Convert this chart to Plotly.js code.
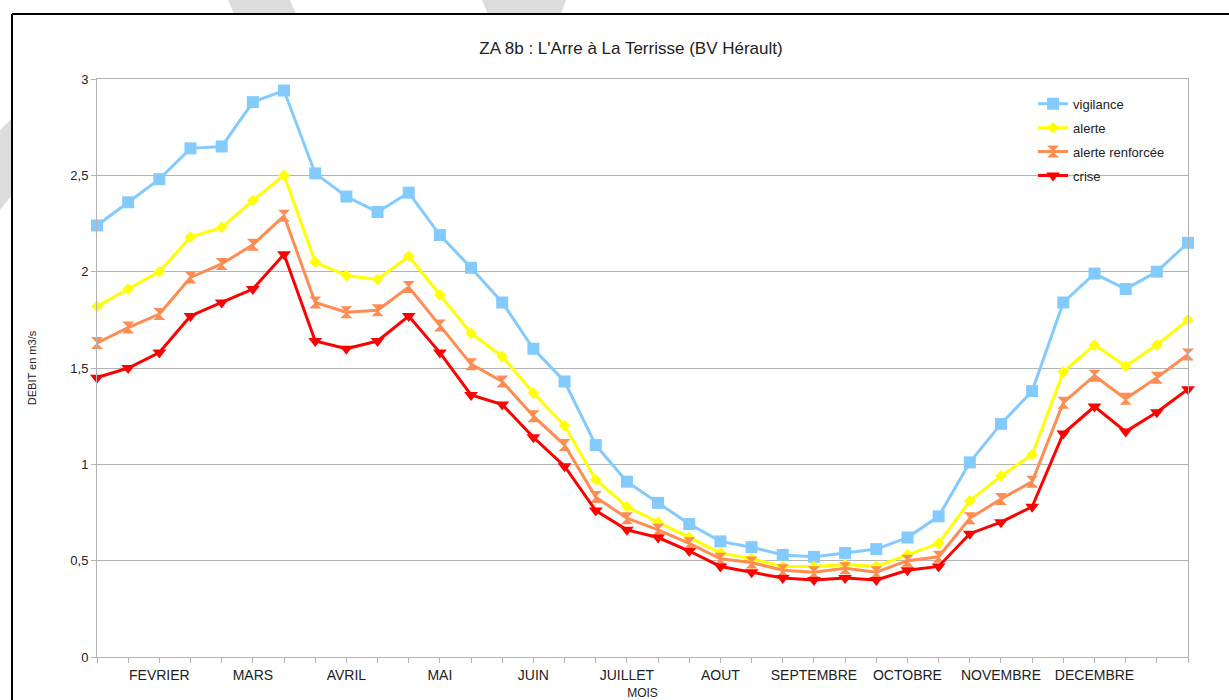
<!DOCTYPE html>
<html>
<head>
<meta charset="utf-8">
<script src="https://cdn.plot.ly/plotly-3.0.1.min.js"></script>
<style>
  html, body { margin: 0; padding: 0; background: #ffffff; }
  #chart { width: 1229px; height: 700px; }
</style>
</head>
<body>
<div id="chart"></div>
<script>
// 36 decades (3 per month)
const decades = [
  "JAN-1","JAN-2","JAN-3","FEV-1","FEV-2","FEV-3","MAR-1","MAR-2","MAR-3",
  "AVR-1","AVR-2","AVR-3","MAI-1","MAI-2","MAI-3","JUN-1","JUN-2","JUN-3",
  "JUL-1","JUL-2","JUL-3","AOU-1","AOU-2","AOU-3","SEP-1","SEP-2","SEP-3",
  "OCT-1","OCT-2","OCT-3","NOV-1","NOV-2","NOV-3","DEC-1","DEC-2","DEC-3"
];
// tick labels as shown under the axis
const monthLabels = [
  "", "", "FEVRIER", "", "", "MARS", "", "", "AVRIL", "", "", "MAI",
  "", "", "JUIN", "", "", "JUILLET", "", "", "AOUT", "", "", "SEPTEMBRE",
  "", "", "OCTOBRE", "", "", "NOVEMBRE", "", "", "DECEMBRE", "", "", ""
];

const vigilance = [2.24, 2.36, 2.48, 2.64, 2.65, 2.88, 2.94, 2.51, 2.39, 2.31, 2.41, 2.19,
  2.02, 1.84, 1.60, 1.43, 1.10, 0.91, 0.80, 0.69, 0.60, 0.57, 0.53, 0.52,
  0.54, 0.56, 0.62, 0.73, 1.01, 1.21, 1.38, 1.84, 1.99, 1.91, 2.00, 2.15];
const alerte = [1.82, 1.91, 2.00, 2.18, 2.23, 2.37, 2.50, 2.05, 1.98, 1.96, 2.08, 1.88,
  1.68, 1.56, 1.37, 1.20, 0.92, 0.78, 0.70, 0.62, 0.54, 0.51, 0.47, 0.47,
  0.48, 0.47, 0.53, 0.59, 0.81, 0.94, 1.05, 1.48, 1.62, 1.51, 1.62, 1.75];
const alerteRenforcee = [1.63, 1.71, 1.78, 1.97, 2.04, 2.14, 2.29, 1.84, 1.79, 1.80, 1.92, 1.72,
  1.52, 1.43, 1.25, 1.10, 0.83, 0.72, 0.66, 0.59, 0.51, 0.49, 0.45, 0.44,
  0.46, 0.44, 0.50, 0.52, 0.72, 0.82, 0.91, 1.32, 1.46, 1.34, 1.45, 1.57];
const crise = [1.45, 1.50, 1.58, 1.77, 1.84, 1.91, 2.09, 1.64, 1.60, 1.64, 1.77, 1.58,
  1.36, 1.31, 1.14, 0.99, 0.76, 0.66, 0.62, 0.55, 0.47, 0.44, 0.41, 0.40,
  0.41, 0.40, 0.45, 0.47, 0.64, 0.70, 0.78, 1.16, 1.30, 1.17, 1.27, 1.39];

const seriesNames = ["vigilance", "alerte", "alerte renforcée", "crise"];
const seriesValues = [vigilance, alerte, alerteRenforcee, crise];
const seriesColors = ["#83caff", "#ffff00", "#ff8c52", "#ff0000"];
const seriesSymbols = ["square", "diamond", "hourglass", "triangle-down"];
const seriesSizes = [12, 9, 12, 12];

const FONT = "Liberation Sans, Arial, sans-serif";

// page geometry (pixels) used for the decorative frame / watermark
const W = 1229, H = 700, ML = 97, MR = 41, MT = 79, MB = 43;
const PW = W - ML - MR, PH = H - MT - MB;
const px = v => (v - ML) / PW;
const py = v => (H - MB - v) / PH;
function poly(pts) {
  return pts.map((p, i) => (i ? "L" : "M") + px(p[0]).toFixed(4) + "," + py(p[1]).toFixed(4)).join(" ") + " Z";
}

const traces = seriesNames.map((name, k) => ({
  type: "scatter",
  mode: "lines+markers",
  name: name,
  x: decades,
  y: seriesValues[k],
  legendgroup: "g" + k,
  cliponaxis: false,
  line: { color: seriesColors[k], width: 3 },
  marker: { color: seriesColors[k], symbol: seriesSymbols[k], size: seriesSizes[k],
            line: { width: 0 } }
}));

const layout = {
  width: W,
  height: H,
  paper_bgcolor: "#ffffff",
  plot_bgcolor: "#ffffff",
  separators: ", ",
  margin: { l: ML, r: MR, t: MT, b: MB },
  font: { family: FONT, color: "#222222", size: 13 },
  title: {
    text: "ZA 8b : L'Arre à La Terrisse (BV Hérault)",
    font: { family: FONT, size: 17, color: "#222222" },
    xref: "container", x: 0.5134, xanchor: "center",
    yref: "container", y: 0.931, yanchor: "middle"
  },
  xaxis: {
    type: "category",
    range: [0, decades.length - 1],
    tickmode: "array",
    tickvals: decades,
    ticktext: monthLabels,
    ticks: "outside",
    ticklen: 5,
    tickcolor: "#b3b3b3",
    tickangle: 0,
    tickfont: { family: FONT, size: 14, color: "#222222" },
    showgrid: false,
    showline: true,
    linecolor: "#b3b3b3",
    linewidth: 1,
    mirror: true,
    zeroline: false,
    title: { text: "MOIS", font: { family: FONT, size: 12, color: "#222222" }, standoff: 8 },
    automargin: false
  },
  yaxis: {
    range: [0, 3],
    dtick: 0.5,
    tick0: 0,
    ticks: "outside",
    ticklen: 5,
    tickcolor: "#b3b3b3",
    tickfont: { family: FONT, size: 13, color: "#222222" },
    showgrid: true,
    gridcolor: "#b3b3b3",
    gridwidth: 1,
    showline: true,
    linecolor: "#b3b3b3",
    linewidth: 1,
    mirror: true,
    zeroline: false,
    title: { text: "DEBIT en m3/s", font: { family: FONT, size: 11, color: "#222222" }, standoff: 31 },
    automargin: false
  },
  showlegend: true,
  legend: {
    x: 0.858, xanchor: "left",
    y: 0.983, yanchor: "top",
    bgcolor: "rgba(0,0,0,0)",
    borderwidth: 0,
    font: { family: FONT, size: 13, color: "#222222" },
    tracegroupgap: 4,
    itemwidth: 30
  },
  shapes: [
    // light grey watermark fragments visible outside the chart frame
    { type: "path", xref: "paper", yref: "paper", layer: "below", line: { width: 0 }, fillcolor: "#dcdcdc",
      path: poly([[228, 0], [290, 0], [296, 14], [234, 14]]) },
    { type: "path", xref: "paper", yref: "paper", layer: "below", line: { width: 0 }, fillcolor: "#dcdcdc",
      path: poly([[482, 0], [566, 0], [561, 14], [488, 14]]) },
    { type: "path", xref: "paper", yref: "paper", layer: "below", line: { width: 0 }, fillcolor: "#dcdcdc",
      path: poly([[0, 130], [12, 118], [12, 195], [0, 210]]) },
    // black chart frame (top and left)
    { type: "line", xref: "paper", yref: "paper", x0: px(12), x1: px(W + 5), y0: py(14), y1: py(14),
      line: { color: "#000000", width: 2 } },
    { type: "line", xref: "paper", yref: "paper", x0: px(12), x1: px(12), y0: py(14), y1: py(H + 5),
      line: { color: "#000000", width: 2 } }
  ]
};

Plotly.newPlot("chart", traces, layout, { displayModeBar: false, staticPlot: true });
</script>
</body>
</html>
